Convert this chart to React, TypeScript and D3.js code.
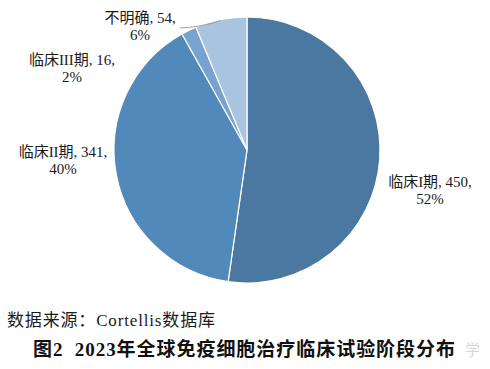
import React, { useEffect, useRef } from 'react';
import * as d3 from 'd3';

// data
const stages = ['临床I期', '临床II期', '临床III期', '不明确'];
const counts = [450, 341, 16, 54];
const percents = ['52%', '40%', '2%', '6%'];
const colors = ['#4b78a1', '#5189bb', '#79a3cf', '#a9c4e1'];

// label anchor offsets from the pie centre (layout only)
const labelLayout = [
  { dx: 183, dy: 42 },
  { dx: -184, dy: 12 },
  { dx: -175, dy: -80 },
  { dx: -107, dy: -122 },
];

const W = 490;
const H = 369;

const App = () => {
  const ref = useRef<SVGSVGElement | null>(null);

  useEffect(() => {
    if (!ref.current) return;
    const svg = d3.select(ref.current);
    svg.selectAll('*').remove();

    const cx = 247;
    const cy = 150;
    const r = 133;
    const font = '"Liberation Serif", "Times New Roman", "Noto Sans CJK SC", serif';

    const rows = stages.map((s, i) => ({ stage: s, count: counts[i], pct: percents[i], i }));

    const pie = d3.pie<any>().value(d => d.count).sort(null);
    const arc = d3.arc<any>().innerRadius(0).outerRadius(r);
    const arcs = pie(rows);

    const g = svg.append('g').attr('transform', `translate(${cx},${cy})`);

    g.selectAll('path.slice')
      .data(arcs)
      .enter()
      .append('path')
      .attr('class', 'slice')
      .attr('d', arc)
      .attr('fill', d => colors[d.data.i])
      .attr('stroke', '#ffffff')
      .attr('stroke-width', 1.2);

    // leader line for 不明确
    const last = arcs[3];
    const mid = (last.startAngle + last.endAngle) / 2;
    const edge: [number, number] = [Math.sin(mid) * r, -Math.cos(mid) * r];
    const lab = labelLayout[3];
    const start: [number, number] = [lab.dx + 40, lab.dy];
    g.append('path')
      .attr('d', `M${start[0]},${start[1]} Q${start[0] + 22},${start[1] - 1} ${edge[0]},${edge[1] + 1}`)
      .attr('fill', 'none')
      .attr('stroke', '#a0a0a0')
      .attr('stroke-width', 1);

    const labels = g.selectAll('g.lab')
      .data(arcs)
      .enter()
      .append('g')
      .attr('class', 'lab')
      .attr('transform', d => `translate(${labelLayout[d.data.i].dx},${labelLayout[d.data.i].dy})`);

    labels.append('text')
      .attr('text-anchor', 'middle')
      .attr('y', -5)
      .style('font-family', font)
      .style('font-size', '15px')
      .attr('fill', '#1a1a1a')
      .text(d => `${d.data.stage}, ${d.data.count},`);

    labels.append('text')
      .attr('text-anchor', 'middle')
      .attr('y', 12)
      .style('font-family', font)
      .style('font-size', '15px')
      .attr('fill', '#1a1a1a')
      .text(d => d.data.pct);

    svg.append('text')
      .attr('x', 7)
      .attr('y', 326)
      .attr('textLength', 208)
      .attr('lengthAdjust', 'spacing')
      .style('font-family', font)
      .style('font-size', '17px')
      .attr('fill', '#1a1a1a')
      .text('数据来源：Cortellis数据库');

    svg.append('text')
      .attr('x', 33)
      .attr('y', 356)
      .attr('textLength', 422)
      .attr('lengthAdjust', 'spacing')
      .style('white-space', 'pre')
      .style('font-family', font)
      .style('font-size', '19px')
      .style('font-weight', 'bold')
      .attr('fill', '#111111')
      .text('图2  2023年全球免疫细胞治疗临床试验阶段分布');

    svg.append('text')
      .attr('x', 465)
      .attr('y', 355)
      .style('font-family', '"Noto Sans CJK SC", sans-serif')
      .style('font-size', '15px')
      .attr('fill', '#c8c8c8')
      .attr('opacity', 0.7)
      .text('学');
  }, []);

  return (
    <svg
      ref={ref}
      width={W}
      height={H}
      style={{ position: 'absolute', left: 0, top: 0, background: '#ffffff' }}
    />
  );
};

export default App;
